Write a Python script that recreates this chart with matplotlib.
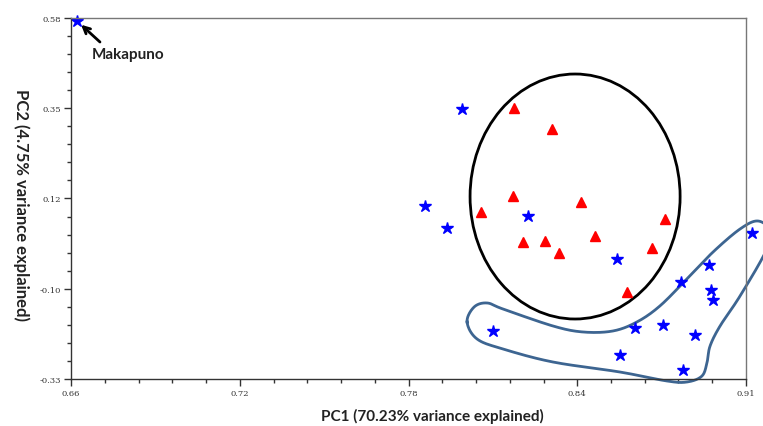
import numpy as np
import matplotlib
matplotlib.use("Agg")
import matplotlib.pyplot as plt
from matplotlib.patches import Ellipse
from matplotlib.ticker import AutoMinorLocator

# PCA scores
star_x = [0.6622, 0.8048, 0.7911, 0.7993, 0.8293, 0.8622, 0.8963, 0.8859, 0.8970,
          0.8978, 0.8163, 0.8689, 0.8793, 0.8911, 0.8633, 0.8867, 0.9122]
star_y = [0.5724, 0.3506, 0.1061, 0.0506, 0.0809, -0.0275, -0.0426, -0.0855, -0.1057,
          -0.1309, -0.2090, -0.2014, -0.1939, -0.2191, -0.2695, -0.3073, 0.0380]
tri_x = [0.8241, 0.8381, 0.8237, 0.8489, 0.8119, 0.8800, 0.8274, 0.8356, 0.8541,
         0.8407, 0.8752, 0.8659]
tri_y = [0.3531, 0.3002, 0.1313, 0.1162, 0.0910, 0.0733, 0.0153, 0.0179, 0.0305,
         -0.0124, 0.0002, -0.1107]

# group outlines
ellipse_center = (0.8467, 0.1300)
ellipse_size = (0.0778, 0.6176)
outline_x = [0.8067, 0.8093, 0.8141, 0.8200, 0.8385, 0.8496, 0.8607, 0.8696, 0.8781,
             0.8881, 0.8978, 0.9078, 0.9144, 0.9189, 0.9174, 0.9078, 0.9004, 0.8967,
             0.8956, 0.8937, 0.8881, 0.8807, 0.8633, 0.8385, 0.8200, 0.8104]
outline_y = [-0.1863, -0.1485, -0.1384, -0.1536, -0.1964, -0.2115, -0.2090, -0.1863,
             -0.1460, -0.0779, -0.0099, 0.0481, 0.0683, 0.0431, -0.0073, -0.1208,
             -0.1964, -0.2468, -0.2872, -0.3224, -0.3376, -0.3350, -0.3124, -0.2872,
             -0.2544, -0.2292]

x_ticks = [0.66, 0.7225, 0.785, 0.8475, 0.91]
x_labels = ["0.66", "0.72", "0.78", "0.84", "0.91"]
y_ticks = [-0.33, -0.1025, 0.125, 0.3525, 0.58]
y_labels = ["-0.33", "-0.10", "0.12", "0.35", "0.58"]


def closed_spline(px, py, n=20):
    # closed Catmull-Rom through the outline points
    p = np.column_stack([px, py])
    m = len(p)
    out = []
    t = np.linspace(0, 1, n, endpoint=False)[:, None]
    for i in range(m):
        p0, p1, p2, p3 = p[i - 1], p[i], p[(i + 1) % m], p[(i + 2) % m]
        seg = 0.5 * ((2 * p1) + (-p0 + p2) * t + (2 * p0 - 5 * p1 + 4 * p2 - p3) * t ** 2
                     + (-p0 + 3 * p1 - 3 * p2 + p3) * t ** 3)
        out.append(seg)
    out = np.vstack(out)
    return np.vstack([out, out[:1]])


fig = plt.figure(figsize=(7.63, 4.27), dpi=100)
ax = fig.add_axes([0.0931, 0.1101, 0.8846, 0.8454])

ax.add_patch(Ellipse(ellipse_center, ellipse_size[0], ellipse_size[1],
                     fill=False, edgecolor="black", linewidth=2))
curve = closed_spline(outline_x, outline_y)
ax.plot(curve[:, 0], curve[:, 1], color="#3d6591", linewidth=2, clip_on=False)

ax.plot(tri_x, tri_y, "^", color="#ff0000", markersize=7, linestyle="none")
ax.plot(star_x, star_y, "*", color="#0000ff", markersize=9, linestyle="none", clip_on=False)

ax.annotate("", xy=(star_x[0], star_y[0]), xytext=(23, -21), textcoords="offset pixels",
            arrowprops=dict(arrowstyle="->", color="black", lw=2, shrinkA=0, shrinkB=4,
                            mutation_scale=12))
ax.annotate("Makapuno", xy=(star_x[0], star_y[0]), xytext=(15, -33),
            textcoords="offset pixels", ha="left", va="center",
            fontsize=11, fontweight="bold", family="Lato", color="#222222")

ax.set_xlim(0.66, 0.91)
ax.set_ylim(-0.33, 0.58)
ax.set_xticks(x_ticks)
ax.set_xticklabels(x_labels)
ax.set_yticks(y_ticks)
ax.set_yticklabels(y_labels)
ax.xaxis.set_minor_locator(AutoMinorLocator(5))
ax.yaxis.set_minor_locator(AutoMinorLocator(5))
ax.tick_params(which="major", length=5, width=1, color="#333333", labelsize=6,
               pad=2, labelcolor="#333333")
ax.tick_params(which="minor", length=3, width=1, color="#333333")
for lbl in ax.get_xticklabels() + ax.get_yticklabels():
    lbl.set_family("DejaVu Serif")

for side in ["left", "bottom"]:
    ax.spines[side].set_color("#333333")
    ax.spines[side].set_linewidth(1)
for side in ["top", "right"]:
    ax.spines[side].set_color("#777777")
    ax.spines[side].set_linewidth(1)

ax.set_xlabel("PC1 (70.23% variance explained)", fontsize=11, fontweight="bold",
              family="Lato", color="#222222", va="center")
ax.xaxis.set_label_coords(0.535, -0.100)
ax.set_ylabel("PC2 (4.75% variance explained)", fontsize=12, fontweight="bold",
              family="Lato", color="#222222", rotation=-90, va="center", ha="center")
ax.yaxis.set_label_coords(-0.073, 0.485)

fig.savefig("out.png", dpi=100)
